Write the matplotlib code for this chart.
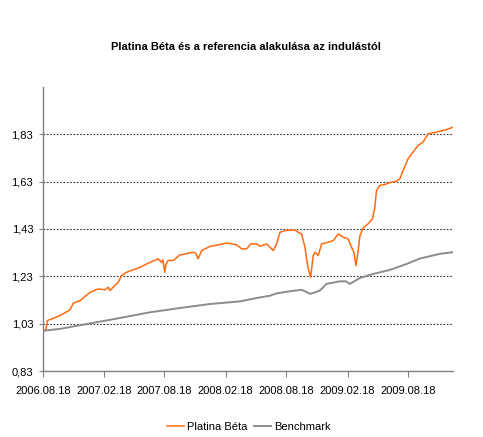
import numpy as np
import pandas as pd
import matplotlib
matplotlib.use("Agg")
import matplotlib.pyplot as plt
import matplotlib.dates as mdates
from matplotlib.ticker import FuncFormatter
from matplotlib import font_manager

plt.rcParams['font.family'] = ['Liberation Sans', 'DejaVu Sans']

start = pd.Timestamp('2006-08-18')

# days since launch (2006.08.18) and index values
beta_days = [0, 9, 13, 26, 51, 81, 91, 111, 141, 166, 186, 196, 201, 226, 236, 251,
             291, 311, 346, 356, 360, 366, 369, 376, 391, 411, 451, 459, 466, 477,
             501, 541, 552, 582, 597, 612, 624, 642, 652, 672, 692, 702, 712, 727,
             757, 767, 777, 787, 792, 797, 804, 812, 817, 827, 837, 857, 872, 887,
             902, 917, 927, 934, 940, 947, 952, 962, 977, 990, 997, 1002, 1012,
             1027, 1047, 1062, 1072, 1082, 1097, 1112, 1127, 1142, 1157, 1182,
             1212, 1232]
beta_vals = [1.00, 1.005, 1.043, 1.05, 1.064, 1.088, 1.116, 1.127, 1.162, 1.177,
             1.173, 1.184, 1.17, 1.205, 1.233, 1.247, 1.268, 1.282, 1.304, 1.289,
             1.30, 1.247, 1.28, 1.297, 1.297, 1.32, 1.332, 1.327, 1.304, 1.339,
             1.356, 1.367, 1.371, 1.363, 1.346, 1.346, 1.367, 1.367, 1.357, 1.367,
             1.339, 1.367, 1.416, 1.423, 1.426, 1.416, 1.409, 1.353, 1.304, 1.262,
             1.226, 1.318, 1.332, 1.318, 1.367, 1.374, 1.381, 1.409, 1.395, 1.388,
             1.353, 1.332, 1.275, 1.339, 1.40, 1.435, 1.452, 1.473, 1.522, 1.593,
             1.614, 1.618, 1.628, 1.632, 1.642, 1.677, 1.727, 1.755, 1.783, 1.797,
             1.832, 1.839, 1.85, 1.86]

bench_days = [0, 51, 141, 231, 321, 411, 501, 591, 652, 682, 702, 742, 777, 787,
              802, 817, 832, 852, 892, 910, 922, 952, 992, 1042, 1092, 1132, 1192, 1232]
bench_vals = [1.00, 1.008, 1.031, 1.054, 1.078, 1.096, 1.113, 1.124, 1.141, 1.148,
              1.158, 1.167, 1.173, 1.167, 1.156, 1.162, 1.17, 1.198, 1.209, 1.209,
              1.198, 1.223, 1.24, 1.257, 1.282, 1.305, 1.325, 1.332]

x_ticks = ['2006-08-18', '2007-02-18', '2007-08-18', '2008-02-18',
           '2008-08-18', '2009-02-18', '2009-08-18']
y_ticks = [0.83, 1.03, 1.23, 1.43, 1.63, 1.83]

beta_x = start + pd.to_timedelta(beta_days, unit='D')
bench_x = start + pd.to_timedelta(bench_days, unit='D')

names = {f.name for f in font_manager.fontManager.ttflist}
title_font = 'Liberation Sans Narrow' if 'Liberation Sans Narrow' in names else 'Liberation Sans'
title_size = 9.5 if title_font == 'Liberation Sans Narrow' else 8

fig = plt.figure(figsize=(4.83, 4.37), dpi=100)
ax = fig.add_axes([0.089, 0.151, 0.849, 0.650])

ax.plot(beta_x, beta_vals, color='#FF6A10', lw=1.1, label='Platina Béta')
ax.plot(bench_x, bench_vals, color='#8C8C8C', lw=1.4, label='Benchmark')

ax.set_xlim(start, start + pd.Timedelta(days=1232))
ax.set_ylim(0.83, 2.03)
ax.set_xticks(pd.to_datetime(x_ticks))
ax.xaxis.set_major_formatter(mdates.DateFormatter('%Y.%m.%d'))
ax.set_yticks(y_ticks)
ax.yaxis.set_major_formatter(FuncFormatter(lambda v, p: f'{v:.2f}'.replace('.', ',')))

ax.grid(axis='y', linestyle=(0, (1.5, 1.5)), color='#333333', lw=0.8)
ax.set_axisbelow(True)
for s in ['top', 'right']:
    ax.spines[s].set_visible(False)
for s in ['left', 'bottom']:
    ax.spines[s].set_color('#808080')
    ax.spines[s].set_linewidth(1.0)
ax.tick_params(axis='x', length=4, color='#808080', pad=7, labelsize=8)
ax.tick_params(axis='y', length=3, color='#808080', pad=4, labelsize=8)

fig.text(0.51, 0.892, 'Platina Béta és a referencia alakulása az indulástól',
         ha='center', va='center', fontsize=title_size, fontweight='bold',
         family=[title_font, 'DejaVu Sans'])

fig.legend(loc='center', bbox_to_anchor=(0.515, 0.024), ncol=2, frameon=False,
           fontsize=8, handlelength=1.5, handletextpad=0.3, columnspacing=0.6)

fig.savefig('out.png', dpi=100)
